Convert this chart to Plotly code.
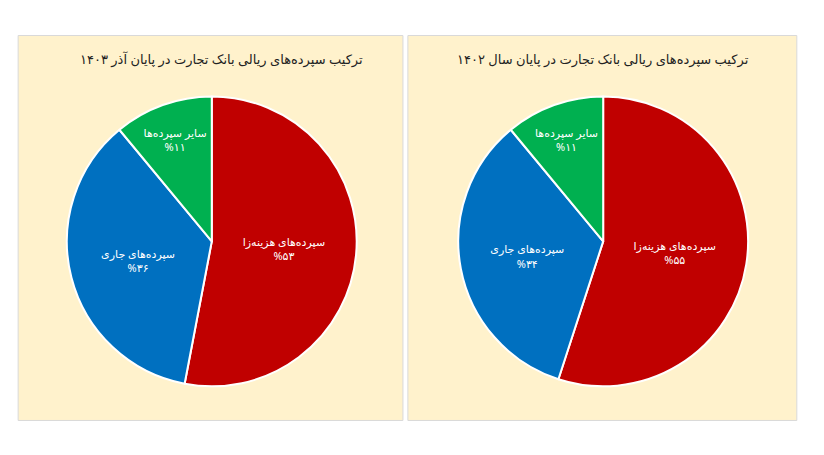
import plotly.graph_objects as go

labels = ["سپرده‌های هزینه‌زا", "سپرده‌های جاری", "سایر سپرده‌ها"]
values_1403 = [53, 36, 11]
values_1402 = [55, 34, 11]
pct_1403 = ["۵۳", "۳۶", "۱۱"]
pct_1402 = ["۵۵", "۳۴", "۱۱"]
titles = ["ترکیب سپرده‌های ریالی بانک تجارت در پایان آذر ۱۴۰۳",
          "ترکیب سپرده‌های ریالی بانک تجارت در پایان سال ۱۴۰۲"]
colors = ["#C00000", "#0070C0", "#00B050"]
font = "Noto Sans, DejaVu Sans"
dx, dy = -0.0097, 0.0165

fig = go.Figure()
for vals, pcts, dom in [(values_1403, pct_1403, [0.081, 0.433]),
                        (values_1402, pct_1402, [0.556, 0.908])]:
    fig.add_trace(go.Pie(
        labels=labels, values=vals, sort=False, direction="clockwise", rotation=0,
        text=[f"{l}<br>%{p}" for l, p in zip(labels, pcts)],
        textinfo="text", textposition="inside", insidetextorientation="horizontal",
        textfont=dict(color="white", size=11, family=font),
        marker=dict(colors=colors, line=dict(color="white", width=2)),
        domain=dict(x=[dom[0] + dx, dom[1] + dx], y=[0.152 + dy, 0.789 + dy]),
        showlegend=False, hoverinfo="label+value"))

shapes = []
for x0, x1 in [(0.022, 0.489), (0.495, 0.967)]:
    shapes.append(dict(type="rect", xref="paper", yref="paper", x0=x0 + dx, x1=x1 + dx,
                       y0=0.077 + dy, y1=0.923 + dy,
                       fillcolor="#FFF2CC", line=dict(color="#D9D9D9", width=1), layer="below"))
annotations = [dict(text=t, x=x + dx, y=0.895 + dy, xref="paper", yref="paper", showarrow=False,
                    xanchor="right", font=dict(size=13, color="#222", family=font))
               for t, x in zip(titles, [0.443, 0.912])]

fig.update_layout(width=824, height=455, margin=dict(l=0, r=0, t=0, b=0),
                  paper_bgcolor="white", shapes=shapes, annotations=annotations)
fig.write_html("out.html")
